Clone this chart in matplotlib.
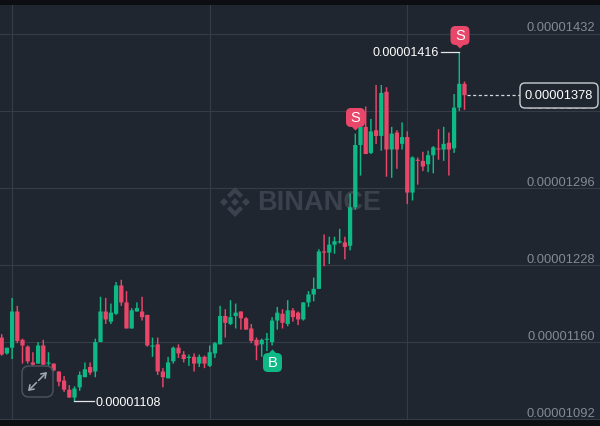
import matplotlib
matplotlib.use("Agg")
import matplotlib.pyplot as plt
import numpy as np
from matplotlib.patches import FancyBboxPatch, Polygon, Rectangle
from matplotlib.transforms import Affine2D

# prices in units of 1e-8
opens = [1164, 1150, 1155, 1187, 1162, 1156, 1142, 1141, 1157, 1141,
         1141, 1134, 1126, 1118, 1111, 1120, 1129, 1138, 1134, 1160,
         1187, 1178, 1185, 1210, 1195, 1172, 1187, 1187, 1184, 1156,
         1158, 1134, 1128, 1143, 1155, 1149, 1146, 1147, 1141, 1147,
         1139, 1150, 1158, 1183, 1176, 1183, 1187, 1181, 1172, 1162,
         1158, 1162, 1160, 1179, 1185, 1176, 1188, 1186, 1180, 1195,
         1202, 1207, 1240, 1239, 1246, 1248, 1248, 1245, 1279, 1334,
         1350, 1327, 1347, 1342, 1381, 1330, 1345, 1335, 1341, 1292,
         1321, 1320, 1317, 1325, 1331, 1330, 1336, 1331, 1367, 1388]
highs = [1167, 1155, 1199, 1192, 1163, 1157, 1151, 1160, 1162, 1151,
         1141, 1134, 1130, 1122, 1121, 1134, 1142, 1142, 1163, 1200,
         1199, 1194, 1213, 1215, 1205, 1190, 1195, 1200, 1184, 1164,
         1164, 1137, 1147, 1156, 1158, 1152, 1149, 1150, 1149, 1148,
         1157, 1160, 1192, 1189, 1197, 1194, 1187, 1182, 1176, 1164,
         1163, 1168, 1182, 1191, 1189, 1197, 1190, 1187, 1195, 1205,
         1217, 1242, 1255, 1253, 1253, 1260, 1253, 1291, 1344, 1350,
         1368, 1357, 1387, 1387, 1385, 1350, 1347, 1354, 1346, 1324,
         1323, 1328, 1329, 1333, 1348, 1350, 1345, 1379, 1416, 1390]
lows = [1148, 1149, 1145, 1159, 1141, 1141, 1139, 1141, 1140, 1139,
        1134, 1121, 1116, 1111, 1108, 1117, 1129, 1131, 1129, 1160,
        1176, 1176, 1184, 1192, 1172, 1172, 1187, 1179, 1156, 1147,
        1131, 1120, 1128, 1141, 1146, 1142, 1139, 1134, 1138, 1137,
        1138, 1146, 1158, 1164, 1175, 1172, 1171, 1171, 1159, 1144,
        1147, 1152, 1157, 1171, 1172, 1174, 1178, 1175, 1179, 1191,
        1196, 1207, 1227, 1229, 1238, 1247, 1233, 1241, 1277, 1307,
        1326, 1326, 1335, 1329, 1306, 1305, 1313, 1330, 1282, 1285,
        1299, 1311, 1310, 1309, 1321, 1320, 1307, 1327, 1364, 1365]
closes = [1149, 1155, 1187, 1161, 1157, 1143, 1140, 1157, 1140, 1142,
          1135, 1125, 1118, 1111, 1119, 1131, 1136, 1133, 1160, 1187,
          1180, 1186, 1210, 1195, 1172, 1188, 1190, 1182, 1157, 1157,
          1134, 1129, 1142, 1155, 1150, 1145, 1147, 1141, 1147, 1141,
          1151, 1159, 1183, 1177, 1182, 1186, 1181, 1171, 1161, 1157,
          1162, 1163, 1179, 1186, 1177, 1188, 1182, 1180, 1195, 1202,
          1207, 1240, 1239, 1246, 1249, 1249, 1244, 1279, 1334, 1350,
          1326, 1346, 1342, 1380, 1330, 1344, 1330, 1341, 1292, 1323,
          1320, 1315, 1325, 1332, 1330, 1335, 1330, 1367, 1388, 1378]
price_ticks = [1432, 1364, 1296, 1228, 1160, 1092]
tick_labels = ["0.00001432", "0.00001364", "0.00001296", "0.00001228", "0.00001160", "0.00001092"]
grid_candles = [2, 40, 78]
signals = [(88, 1416, "S"), (68, 1344, "S"), (52, 1157, "B")]

BG = "#1f2630"
GREEN = "#0fb985"
RED = "#e9476a"
GRID = "#343c48"

plt.rcParams["font.family"] = ["Liberation Sans", "DejaVu Sans"]

fig = plt.figure(figsize=(6, 4.27), dpi=100, facecolor=BG)
ax = fig.add_axes([0, 0, 1, 1], facecolor=BG)
ax.set_xlim(-0.327, 115.06)
ax.set_ylim(1085.9, 1462.9)
ax.axis("off")

# top-down pixel coords for the decorations
pix = Affine2D().scale(1, -1).translate(0, 427)

x = np.arange(len(opens))
o = np.array(opens)
c = np.array(closes)
cols = [GREEN if b >= a else RED for a, b in zip(opens, closes)]

for p in price_ticks:
    ax.axhline(p, color=GRID, lw=0.8, zorder=1)
for g in grid_candles:
    ax.axvline(g, color=GRID, lw=0.8, zorder=1)

# watermark
ax.text(319.5, 203, "BINANCE", transform=pix, color="#3b424e", fontsize=19.5, fontweight="bold",
        ha="center", va="center", zorder=1.5)
logo = [[(235, 188), (243, 196), (240, 199), (235, 194), (230, 199), (227, 196)],
        [(235, 218), (243, 210), (240, 207), (235, 212), (230, 207), (227, 210)],
        [(235, 199), (239, 203), (235, 207), (231, 203)],
        [(224, 199), (228, 203), (224, 207), (220, 203)],
        [(246, 199), (250, 203), (246, 207), (242, 203)]]
for pts in logo:
    ax.add_patch(Polygon(pts, closed=True, transform=pix, fc="#3b424e", ec="none", zorder=1.5))

wicks = ax.vlines(x, lows, highs, colors=cols, lw=1.05, zorder=3)
wicks.set_snap(False)
bars = ax.bar(x, np.abs(c - o).clip(1), bottom=np.minimum(o, c), width=0.82, color=cols, zorder=4)
for b in bars:
    b.set_snap(False)

# axis labels sit just above their grid line
for p, lab in zip(price_ticks, tick_labels):
    ax.annotate(lab, xy=(0.992, p), xycoords=ax.get_yaxis_transform(),
                xytext=(0, 6.5), textcoords="offset pixels", ha="right", va="center",
                color="#828a94", fontsize=9.3, zorder=2)

# high / low callouts
ax.plot([88, 84.4], [1416, 1416], color="#e4e6e8", lw=0.9, zorder=5)
ax.text(439, 53, "0.00001416", transform=pix, color="white", fontsize=9, ha="right", va="center", zorder=6)
ax.plot([14, 17.7], [1108, 1108], color="#e4e6e8", lw=0.9, zorder=5)
ax.text(95, 403, "0.00001108", transform=pix, color="white", fontsize=9, ha="left", va="center", zorder=6)

# buy / sell tags
for (i, price, s), cx, cy in zip(signals, [460, 355.5, 272.5], [36.5, 118.5, 363.5]):
    col = RED if s == "S" else GREEN
    ax.add_patch(FancyBboxPatch((cx - 7.5, cy - 7.5), 15, 15, boxstyle="round,pad=2,rounding_size=5",
                                transform=pix, fc=col, ec="none", zorder=7))
    tip = cy + 13 if s == "S" else cy - 13
    base = cy + 9 if s == "S" else cy - 9
    ax.add_patch(Polygon([(cx - 4, base), (cx + 4, base), (cx, tip)], transform=pix, fc=col, ec="none", zorder=7))
    ax.text(cx, cy, s, transform=pix, color="white", fontsize=10.5, ha="center", va="center", zorder=8)

# last price line and box
ax.plot([89.4, 99.7], [closes[-1], closes[-1]], color="#d5d8dc", lw=0.9, ls=(0, (2.5, 2)), zorder=5)
ax.add_patch(FancyBboxPatch((523, 87), 72, 19, boxstyle="round,pad=3,rounding_size=5", transform=pix,
                            fc=BG, ec="#c9ccd0", lw=1.0, zorder=6))
ax.text(559, 96.5, "0.00001378", transform=pix, color="white", fontsize=9.3, ha="center", va="center", zorder=7)

# expand button
ax.add_patch(FancyBboxPatch((26, 371), 23, 23, boxstyle="round,pad=4,rounding_size=7", transform=pix,
                            fc="none", ec="#4a515c", lw=1.1, zorder=5))
arrow = dict(arrowstyle="->,head_width=0.22,head_length=0.32", color="#a3a8af", lw=1.1, shrinkA=0, shrinkB=0)
ax.annotate("", xy=(47, 373), xytext=(38.5, 381.5), xycoords=pix, textcoords=pix, arrowprops=arrow, zorder=6)
ax.annotate("", xy=(28, 392), xytext=(36.5, 383.5), xycoords=pix, textcoords=pix, arrowprops=arrow, zorder=6)

# black strips from the screenshot
fig.add_artist(Rectangle((0, 0), 600, 6, transform=pix, fc="#0c0e12", ec="none", zorder=10))
fig.add_artist(Rectangle((0, 421), 600, 6, transform=pix, fc="#0c0e12", ec="none", zorder=10))

fig.savefig("out.png", dpi=100, facecolor=BG)
